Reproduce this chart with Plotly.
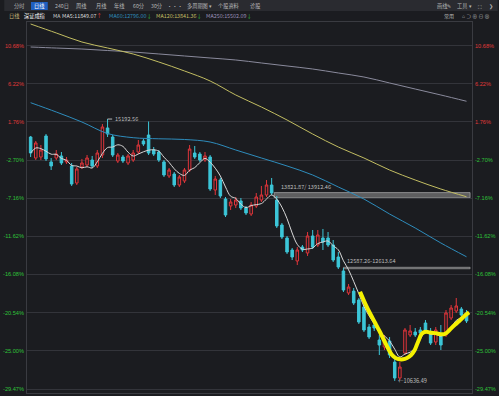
import plotly.graph_objects as go
import pandas as pd

# ---------------- data ----------------
BASE_PRICE = 14880.0   # price that corresponds to 0% on the percent axis

opens = [14880, 14515, 14532, 14898, 14446, 14515, 14550, 14446, 14376, 14080,
         14359, 14393, 14480, 14376, 14567, 15037, 14880, 14463, 14532, 14428,
         14480, 14619, 14811, 14915, 14654, 14619, 14446, 14202, 14236, 14045,
         14115, 14306, 14602, 14584, 14480, 14532, 13958, 14132, 13801, 13680,
         13697, 13767, 13645, 13540, 13680, 13784, 13871, 14045, 13784, 13349,
         13123, 12914, 12723, 12966, 12862, 13158, 13001, 13123, 13123, 13001,
         12792, 12549, 12166, 12199, 12044, 11922, 11574, 11609, 11348, 11226,
         11331, 10965, 10687, 11122, 11435, 11487, 11522, 11644, 11487, 11313,
         11435, 11435, 11731, 11853, 11887, 11818]
closes = [14602, 14776, 14654, 14498, 14376, 14584, 14428, 14480, 14062, 14324,
          14428, 14515, 14376, 14602, 15054, 14932, 14567, 14567, 14463, 14550,
          14602, 14741, 14758, 14602, 14584, 14480, 14219, 14306, 14045, 14184,
          14306, 14671, 14532, 14480, 14550, 13975, 14149, 13854, 13523, 13749,
          13784, 13645, 13558, 13697, 13836, 13871, 14045, 13906, 13332, 13140,
          12879, 12792, 12914, 12914, 13158, 12966, 13175, 13053, 13001, 12740,
          12618, 12218, 12270, 11992, 11661, 11522, 11400, 11557, 11261, 11348,
          11087, 10687, 10878, 11522, 11505, 11435, 11470, 11522, 11296, 11522,
          11261, 11818, 11905, 11940, 11783, 11679]
highs = [14898, 14811, 14741, 14932, 14515, 14654, 14619, 14532, 14428, 14359,
         14498, 14567, 14550, 14654, 15106, 15192.56, 14915, 14602, 14567, 14584,
         14654, 14828, 14845, 15150, 14706, 14654, 14480, 14341, 14271, 14219,
         14341, 14741, 14724, 14619, 14619, 14567, 14202, 14167, 13836, 13801,
         13836, 13819, 13680, 13749, 13906, 14028, 14132, 14167, 13854, 13384,
         13158, 12949, 12966, 13001, 13227, 13262, 13262, 13280, 13227, 13088,
         12879, 12601, 12322, 12253, 12079, 11974, 11626, 11679, 11435, 11435,
         11400, 11035, 10965, 11557, 11609, 11557, 11574, 11696, 11557, 11574,
         11609, 11870, 11957, 12079, 11922, 11870]
lows = [14532, 14480, 14480, 14463, 14306, 14480, 14393, 14411, 14028, 14045,
        14324, 14359, 14341, 14341, 14515, 14880, 14532, 14428, 14428, 14393,
        14446, 14584, 14724, 14567, 14550, 14446, 14184, 14167, 14010, 14010,
        14080, 14271, 14498, 14446, 14446, 13941, 13871, 13819, 13488, 13610,
        13645, 13610, 13523, 13506, 13645, 13749, 13836, 13871, 13297, 13105,
        12844, 12740, 12653, 12879, 12810, 12931, 12966, 12914, 12966, 12705,
        12583, 12183, 12131, 11957, 11626, 11487, 11365, 11505, 11087, 11174,
        11035, 10636.49, 10652, 11087, 11400, 11400, 11435, 11470, 11261, 11261,
        11174, 11400, 11696, 11818, 11748, 11644]

# long moving averages (sampled every 5 bars from the picture)
ma_idx = [0, 5, 10, 15, 20, 25, 30, 35, 40, 45, 50, 55, 60, 65, 70, 75, 80, 85]
ma60 = [15477, 15315, 15141, 14941, 14868, 14849, 14837, 14793, 14654, 14515,
        14376, 14219, 14010, 13801, 13540, 13297, 13036, 12796]
ma120 = [16846, 16690, 16533, 16429, 16324, 16185, 16029, 15855, 15611, 15402,
         15176, 14932, 14706, 14515, 14306, 14132, 13975, 13841]
ma250 = [16446, 16428, 16411, 16385, 16359, 16325, 16290, 16255, 16220, 16168,
         16116, 16063, 15994, 15924, 15820, 15715, 15611, 15502]

# percent ticks of the price axis
pct_ticks = [10.68, 6.22, 1.76, -2.70, -7.16, -11.62, -16.08, -20.54, -25.00, -29.47]

# hand-drawn yellow curve (bar position, price)
draw_x = [64.25, 65.2, 66.2, 67.2, 68.1, 68.9, 69.7, 70.4, 71.0, 71.7, 72.6, 73.4,
          74.2, 74.9, 75.3, 75.7, 76.1, 76.6, 77.1, 77.9, 79.1, 79.9, 80.7, 81.4,
          82.0, 82.8, 83.6, 84.6, 85.5]
draw_y = [12188, 11992, 11809, 11644, 11492, 11348, 11204, 11096, 11047, 11017,
          11012, 11035, 11087, 11174, 11261, 11348, 11435, 11479, 11492, 11479,
          11464, 11449, 11452, 11496, 11551, 11618, 11679, 11766, 11827]

# horizontal marker lines (low, high, start bar)
band1 = (13821.87, 13912.46, 47.5)
band2 = (12587.26, 12613.64, 61.0)

legend_vals = {"MA5": 11849.07, "MA60": 12796.00, "MA120": 13841.36, "MA250": 15502.09}

# ---------------- styling ----------------
BG = "#1b1c20"
UP = "#e0353a"
DN = "#3cc6d8"
GRID = "#33343a"
C_MA5 = "#d9d9d9"
C_MA60 = "#2e8cbc"
C_MA120 = "#c2bd62"
C_MA250 = "#8a8a9c"
FONT = "Noto Sans CJK SC, Noto Sans, sans-serif"

idx = list(range(len(closes)))
ma5 = pd.Series(closes).rolling(5, min_periods=1).mean().tolist()

fig = go.Figure()

fig.add_trace(go.Scatter(x=ma_idx, y=ma250, mode="lines", line=dict(color=C_MA250, width=1, shape="spline"),
                         hoverinfo="skip", showlegend=False))
fig.add_trace(go.Scatter(x=ma_idx, y=ma120, mode="lines", line=dict(color=C_MA120, width=1, shape="spline"),
                         hoverinfo="skip", showlegend=False))
fig.add_trace(go.Scatter(x=ma_idx, y=ma60, mode="lines", line=dict(color=C_MA60, width=1, shape="spline"),
                         hoverinfo="skip", showlegend=False))

fig.add_trace(go.Candlestick(
    x=idx, open=opens, high=highs, low=lows, close=closes,
    increasing=dict(line=dict(color=UP, width=1), fillcolor=BG),
    decreasing=dict(line=dict(color=DN, width=1), fillcolor=DN),
    whiskerwidth=0, hoverinfo="skip", showlegend=False))

fig.add_trace(go.Scatter(x=idx, y=ma5, mode="lines", line=dict(color=C_MA5, width=1, shape="spline"),
                         hoverinfo="skip", showlegend=False))

fig.add_trace(go.Scatter(x=draw_x, y=draw_y, mode="lines",
                         line=dict(color="#f4f000", width=4, shape="spline"),
                         hoverinfo="skip", showlegend=False))

# invisible trace for the right axis
fig.add_trace(go.Scatter(x=[idx[0]], y=[closes[0]], yaxis="y2", mode="markers",
                         marker=dict(opacity=0), hoverinfo="skip", showlegend=False))

# ---------------- axes ----------------
tick_prices = [BASE_PRICE * (1 + p / 100) for p in pct_ticks]
tick_text = [f'<span style="color:{"#e03a3a" if p > 0 else "#2fc23a"}">{p:.2f}%</span>' for p in pct_ticks]
yrange = [10426, 16881]

fig.update_layout(
    width=499, height=396,
    margin=dict(l=23, r=26, t=22, b=3),
    paper_bgcolor=BG, plot_bgcolor=BG,
    font=dict(family=FONT, size=6, color="#cccccc"),
    xaxis=dict(range=[-0.71, 86.07], showgrid=False, zeroline=False, showticklabels=False,
               rangeslider=dict(visible=False), showline=True, mirror=True, linecolor="#3a3b41",
               fixedrange=True),
    yaxis=dict(range=yrange, tickvals=tick_prices, ticktext=tick_text, showgrid=True, gridcolor=GRID,
               gridwidth=1, zeroline=False, showline=True, mirror=True, linecolor="#3a3b41",
               tickfont=dict(size=5.6, family="Liberation Sans, Arial, sans-serif"), ticks="",
               ticklabelstandoff=1),
    yaxis2=dict(range=yrange, overlaying="y", side="right", tickvals=tick_prices, ticktext=tick_text,
                showgrid=False, zeroline=False, showline=False,
                tickfont=dict(size=5.6, family="Liberation Sans, Arial, sans-serif"), ticks="",
                ticklabelstandoff=2),
    showlegend=False,
)

shapes = []
# marker bands
shapes.append(dict(type="rect", xref="x", yref="y", x0=band1[2], x1=85.7, y0=band1[0], y1=band1[1],
                   fillcolor="rgba(150,150,150,0.55)", line=dict(color="rgba(190,190,190,0.6)", width=1),
                   layer="below"))
shapes.append(dict(type="rect", xref="x", yref="y", x0=band2[2], x1=85.7, y0=band2[0], y1=band2[1],
                   fillcolor="rgba(150,150,150,0.5)", line=dict(color="rgba(170,170,170,0.6)", width=1),
                   layer="below"))
# short leader line for the high
shapes.append(dict(type="line", xref="x", yref="y", x0=15, x1=15.9, y0=highs[15], y1=highs[15],
                   line=dict(color="#bbbbbb", width=1)))


def px2paper(px, py):
    return (px - 23) / 450.0, (393 - py) / 371.0


# toolbar background
x0, y0 = px2paper(0, 0)
x1, y1 = px2paper(499, 11)
shapes.append(dict(type="rect", xref="paper", yref="paper", x0=x0, x1=x1, y0=y1, y1=y0,
                   fillcolor="#2a2b30", line=dict(width=0), layer="below"))
# selected tab
x0, y0 = px2paper(27, 2)
x1, y1 = px2paper(44, 10)
shapes.append(dict(type="rect", xref="paper", yref="paper", x0=x0, x1=x1, y0=y1, y1=y0,
                   fillcolor="#1f5fc0", line=dict(width=0)))
fig.update_layout(shapes=shapes)

ann = []


def txt(px, py, s, color="#c8c8c8", size=6, anchor="center"):
    xp, yp = px2paper(px, py)
    ann.append(dict(xref="paper", yref="paper", x=xp, y=yp, text=s, showarrow=False,
                    xanchor=anchor, yanchor="middle", font=dict(color=color, size=size, family=FONT)))


# toolbar row
tabs = [("分时", 15), ("日线", 35), ("240日", 58.5), ("周线", 78), ("月线", 97.5), ("年线", 116),
        ("60分", 135.5), ("30分", 153.5), ("···", 172.5), ("多周期图 ▾", 197), ("个股资料", 227), ("诊股", 254)]
for t, x in tabs:
    txt(x, 6.5, t, "#ffffff" if t == "日线" else "#b8b8b8", 5.2)
txt(445, 6.5, "画线✎", "#b8b8b8", 5.2)
txt(465, 6.5, "工具 ▾", "#b8b8b8", 5.2)
txt(481, 6.5, "⛶", "#b8b8b8", 5.2)
txt(492, 6.5, "❯", "#b8b8b8", 5.2)

# legend row
txt(3, 15.5, "日线", "#c9b77a", 5.2, "left")
txt(18, 15.5, "深证成指", "#ffffff", 5.2, "left")
txt(47, 15.5, "MA", "#d0d0d0", 5.2, "left")
txt(56, 15.5, f'MA5:{legend_vals["MA5"]:.2f}<span style="color:#e03a3a">↑</span>', C_MA5, 5.4, "left")
txt(104, 15.5, f'MA60:{legend_vals["MA60"]:.2f}<span style="color:#2fc23a">↓</span>', C_MA60, 5.4, "left")
txt(151, 15.5, f'MA120:{legend_vals["MA120"]:.2f}<span style="color:#2fc23a">↓</span>', C_MA120, 5.4, "left")
txt(202, 15.5, f'MA250:{legend_vals["MA250"]:.2f}<span style="color:#2fc23a">↓</span>', "#9a8fb8", 5.4, "left")
txt(450, 15.5, "常用", "#b8b8b8", 5.0)
txt(477, 15.5, "⌂ ⊃ ⊕ ⊖ ⊗", "#b8b8b8", 5.0)

# price labels inside the plot
ann.append(dict(xref="x", yref="y", x=16.0, y=highs[15], text=f"{highs[15]:.2f}", showarrow=False,
                xanchor="left", yanchor="middle", font=dict(color="#bdbdbd", size=5.6, family=FONT)))
ann.append(dict(xref="x", yref="y", x=71.3, y=lows[71], text=f"←{lows[71]:.2f}", showarrow=False,
                xanchor="left", yanchor="middle", font=dict(color="#bdbdbd", size=5.6, family=FONT)))
ann.append(dict(xref="x", yref="y", x=48.5, y=band1[1], text=f"{band1[0]:.2f}/ {band1[1]:.2f}", showarrow=False,
                xanchor="left", yanchor="bottom", font=dict(color="#bdbdbd", size=5.6, family=FONT)))
ann.append(dict(xref="x", yref="y", x=61.4, y=band2[1], text=f"{band2[0]:.2f}-{band2[1]:.2f}", showarrow=False,
                xanchor="left", yanchor="bottom", font=dict(color="#bdbdbd", size=5.6, family=FONT)))

fig.update_layout(annotations=ann)

fig.write_html("out.html", config={"displayModeBar": False},
               post_script="document.body.style.margin='0';document.body.style.background='" + BG + "';")
